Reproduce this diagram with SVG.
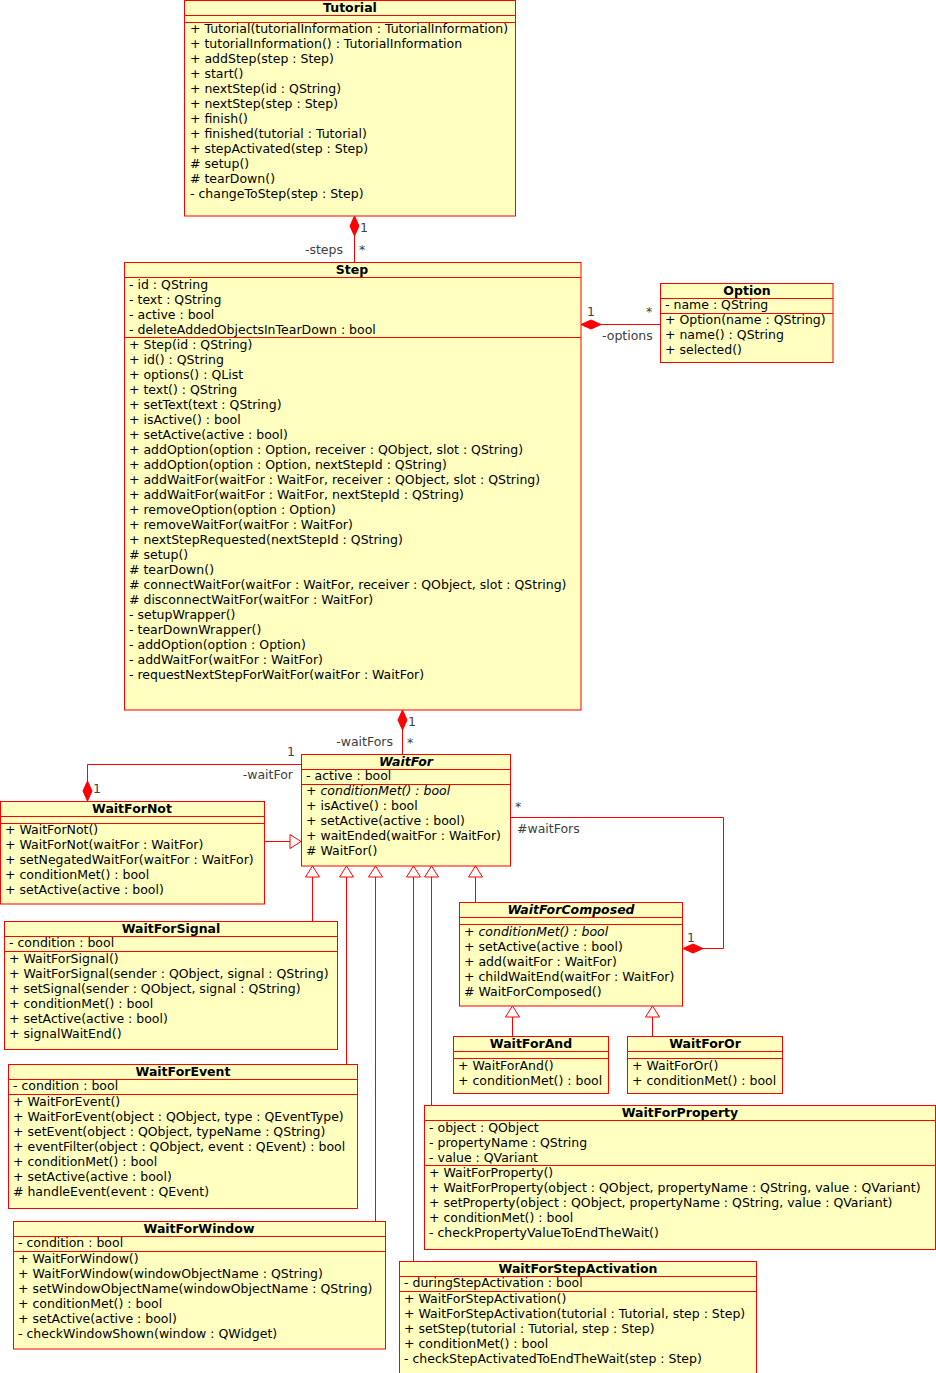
<svg xmlns="http://www.w3.org/2000/svg" width="936" height="1373" viewBox="0 0 936 1373">
<style>
.box{fill:#ffffc0;stroke:#ff0000;stroke-width:1}
.sep{stroke:#ff0000;stroke-width:1}
text{font-family:"DejaVu Sans","Liberation Sans",sans-serif;font-size:12.5px;fill:#000}
.h{font-weight:bold;text-anchor:middle}
.i{font-style:italic}
.lbl{fill:#404040}
.ln{fill:none;stroke:#ff0000;stroke-width:1}
.dia{fill:#ff0000;stroke:#ff0000;stroke-width:1}
.tri{fill:#ffffff;stroke:#ff0000;stroke-width:1}
</style>
<rect width="936" height="1373" fill="#ffffff"/>

<g id="connectors">
  <!-- Tutorial - Step -->
  <line class="ln" x1="354.5" y1="236" x2="354.5" y2="262"/>
  <polygon class="dia" points="354.5,216 359,226 354.5,236 350,226"/>
  <text class="lbl" x="360" y="232">1</text>
  <text class="lbl" x="359" y="254">*</text>
  <text class="lbl" x="343" y="254" text-anchor="end">-steps</text>
  <!-- Step - Option -->
  <line class="ln" x1="601" y1="324.5" x2="660" y2="324.5"/>
  <polygon class="dia" points="581,324.5 591,320 601,324.5 591,329"/>
  <text class="lbl" x="587" y="316">1</text>
  <text class="lbl" x="646" y="316">*</text>
  <text class="lbl" x="602" y="340">-options</text>
  <!-- Step - WaitFor -->
  <line class="ln" x1="402.5" y1="730" x2="402.5" y2="754"/>
  <polygon class="dia" points="402.5,710 407,720 402.5,730 398,720"/>
  <text class="lbl" x="408" y="726">1</text>
  <text class="lbl" x="407" y="747">*</text>
  <text class="lbl" x="393" y="746" text-anchor="end">-waitFors</text>
  <!-- WaitFor - WaitForNot -->
  <polyline class="ln" points="301,764.5 87.5,764.5 87.5,781"/>
  <polygon class="dia" points="87.5,781 92,791 87.5,801 83,791"/>
  <text class="lbl" x="287" y="756">1</text>
  <text class="lbl" x="293" y="779" text-anchor="end">-waitFor</text>
  <text class="lbl" x="93" y="793">1</text>
  <!-- WaitFor - WaitForComposed -->
  <polyline class="ln" points="510,817.5 723.5,817.5 723.5,948.5 703,948.5"/>
  <polygon class="dia" points="683,948.5 693,944 703,948.5 693,953"/>
  <text class="lbl" x="515" y="811">*</text>
  <text class="lbl" x="517" y="833">#waitFors</text>
  <text class="lbl" x="687" y="942">1</text>
  <!-- WaitForNot generalization -->
  <line class="ln" x1="264" y1="841.5" x2="290" y2="841.5"/>
  <polygon class="tri" points="301,841.5 290,834.5 290,848.5"/>
  <!-- generalizations below WaitFor -->
  <line class="ln" x1="312.5" y1="877" x2="312.5" y2="921.5"/>
  <polygon class="tri" points="312.5,866 305.5,877 319.5,877"/>
  <line class="ln" x1="346.5" y1="877" x2="346.5" y2="1064.5"/>
  <polygon class="tri" points="346.5,866 339.5,877 353.5,877"/>
  <line class="ln" x1="375.5" y1="877" x2="375.5" y2="1221.5"/>
  <polygon class="tri" points="375.5,866 368.5,877 382.5,877"/>
  <line class="ln" x1="413.5" y1="877" x2="413.5" y2="1261.5"/>
  <polygon class="tri" points="413.5,866 406.5,877 420.5,877"/>
  <line class="ln" x1="431.5" y1="877" x2="431.5" y2="1105.5"/>
  <polygon class="tri" points="431.5,866 424.5,877 438.5,877"/>
  <line class="ln" x1="475.5" y1="877" x2="475.5" y2="902.5"/>
  <polygon class="tri" points="475.5,866 468.5,877 482.5,877"/>
  <!-- below WaitForComposed -->
  <line class="ln" x1="512.5" y1="1017" x2="512.5" y2="1036.5"/>
  <polygon class="tri" points="512.5,1006 505.5,1017 519.5,1017"/>
  <line class="ln" x1="652.5" y1="1017" x2="652.5" y2="1036.5"/>
  <polygon class="tri" points="652.5,1006 645.5,1017 659.5,1017"/>
</g>

<g id="Tutorial">
  <rect class="box" x="184.5" y="0.5" width="331" height="215.5"/>
  <line class="sep" x1="184.5" y1="15.5" x2="515.5" y2="15.5"/>
  <line class="sep" x1="184.5" y1="22.5" x2="515.5" y2="22.5"/>
  <text class="h" x="350" y="12">Tutorial</text>
  <text x="190" y="33">+ Tutorial(tutorialInformation : TutorialInformation)</text>
  <text x="190" y="48">+ tutorialInformation() : TutorialInformation</text>
  <text x="190" y="63">+ addStep(step : Step)</text>
  <text x="190" y="78">+ start()</text>
  <text x="190" y="93">+ nextStep(id : QString)</text>
  <text x="190" y="108">+ nextStep(step : Step)</text>
  <text x="190" y="123">+ finish()</text>
  <text x="190" y="138">+ finished(tutorial : Tutorial)</text>
  <text x="190" y="153">+ stepActivated(step : Step)</text>
  <text x="190" y="168"># setup()</text>
  <text x="190" y="183"># tearDown()</text>
  <text x="190" y="198">- changeToStep(step : Step)</text>
</g>

<g id="Step">
  <rect class="box" x="124.5" y="262.5" width="456.5" height="447.5"/>
  <line class="sep" x1="124.5" y1="277.5" x2="581" y2="277.5"/>
  <line class="sep" x1="124.5" y1="337.5" x2="581" y2="337.5"/>
  <text class="h" x="352" y="274">Step</text>
  <text x="129" y="289">- id : QString</text>
  <text x="129" y="304">- text : QString</text>
  <text x="129" y="319">- active : bool</text>
  <text x="129" y="334">- deleteAddedObjectsInTearDown : bool</text>
  <text x="129" y="349">+ Step(id : QString)</text>
  <text x="129" y="364">+ id() : QString</text>
  <text x="129" y="379">+ options() : QList</text>
  <text x="129" y="394">+ text() : QString</text>
  <text x="129" y="409">+ setText(text : QString)</text>
  <text x="129" y="424">+ isActive() : bool</text>
  <text x="129" y="439">+ setActive(active : bool)</text>
  <text x="129" y="454">+ addOption(option : Option, receiver : QObject, slot : QString)</text>
  <text x="129" y="469">+ addOption(option : Option, nextStepId : QString)</text>
  <text x="129" y="484">+ addWaitFor(waitFor : WaitFor, receiver : QObject, slot : QString)</text>
  <text x="129" y="499">+ addWaitFor(waitFor : WaitFor, nextStepId : QString)</text>
  <text x="129" y="514">+ removeOption(option : Option)</text>
  <text x="129" y="529">+ removeWaitFor(waitFor : WaitFor)</text>
  <text x="129" y="544">+ nextStepRequested(nextStepId : QString)</text>
  <text x="129" y="559"># setup()</text>
  <text x="129" y="574"># tearDown()</text>
  <text x="129" y="589"># connectWaitFor(waitFor : WaitFor, receiver : QObject, slot : QString)</text>
  <text x="129" y="604"># disconnectWaitFor(waitFor : WaitFor)</text>
  <text x="129" y="619">- setupWrapper()</text>
  <text x="129" y="634">- tearDownWrapper()</text>
  <text x="129" y="649">- addOption(option : Option)</text>
  <text x="129" y="664">- addWaitFor(waitFor : WaitFor)</text>
  <text x="129" y="679">- requestNextStepForWaitFor(waitFor : WaitFor)</text>
</g>

<g id="Option">
  <rect class="box" x="660.5" y="283.5" width="172.5" height="79"/>
  <line class="sep" x1="660.5" y1="298.5" x2="833" y2="298.5"/>
  <line class="sep" x1="660.5" y1="313.5" x2="833" y2="313.5"/>
  <text class="h" x="747" y="295">Option</text>
  <text x="665" y="309">- name : QString</text>
  <text x="665" y="324">+ Option(name : QString)</text>
  <text x="665" y="339">+ name() : QString</text>
  <text x="665" y="354">+ selected()</text>
</g>

<g id="WaitFor">
  <rect class="box" x="301.5" y="754.5" width="209" height="111.5"/>
  <line class="sep" x1="301.5" y1="769.5" x2="510.5" y2="769.5"/>
  <line class="sep" x1="301.5" y1="784.5" x2="510.5" y2="784.5"/>
  <text class="h i" x="406" y="766">WaitFor</text>
  <text x="306" y="780">- active : bool</text>
  <text x="306" y="795">+ <tspan class="i">conditionMet() : bool</tspan></text>
  <text x="306" y="810">+ isActive() : bool</text>
  <text x="306" y="825">+ setActive(active : bool)</text>
  <text x="306" y="840">+ waitEnded(waitFor : WaitFor)</text>
  <text x="306" y="855"># WaitFor()</text>
</g>

<g id="WaitForNot">
  <rect class="box" x="0.5" y="801.5" width="264" height="102.5"/>
  <line class="sep" x1="0.5" y1="816.5" x2="264.5" y2="816.5"/>
  <line class="sep" x1="0.5" y1="823.5" x2="264.5" y2="823.5"/>
  <text class="h" x="132" y="813">WaitForNot</text>
  <text x="5" y="834">+ WaitForNot()</text>
  <text x="5" y="849">+ WaitForNot(waitFor : WaitFor)</text>
  <text x="5" y="864">+ setNegatedWaitFor(waitFor : WaitFor)</text>
  <text x="5" y="879">+ conditionMet() : bool</text>
  <text x="5" y="894">+ setActive(active : bool)</text>
</g>

<g id="WaitForSignal">
  <rect class="box" x="4.5" y="921.5" width="333" height="128"/>
  <line class="sep" x1="4.5" y1="936.5" x2="337.5" y2="936.5"/>
  <line class="sep" x1="4.5" y1="951.5" x2="337.5" y2="951.5"/>
  <text class="h" x="171" y="933">WaitForSignal</text>
  <text x="9" y="947">- condition : bool</text>
  <text x="9" y="963">+ WaitForSignal()</text>
  <text x="9" y="978">+ WaitForSignal(sender : QObject, signal : QString)</text>
  <text x="9" y="993">+ setSignal(sender : QObject, signal : QString)</text>
  <text x="9" y="1008">+ conditionMet() : bool</text>
  <text x="9" y="1023">+ setActive(active : bool)</text>
  <text x="9" y="1038">+ signalWaitEnd()</text>
</g>

<g id="WaitForEvent">
  <rect class="box" x="8.5" y="1064.5" width="349" height="144"/>
  <line class="sep" x1="8.5" y1="1079.5" x2="357.5" y2="1079.5"/>
  <line class="sep" x1="8.5" y1="1094.5" x2="357.5" y2="1094.5"/>
  <text class="h" x="183" y="1076">WaitForEvent</text>
  <text x="13" y="1090">- condition : bool</text>
  <text x="13" y="1106">+ WaitForEvent()</text>
  <text x="13" y="1121">+ WaitForEvent(object : QObject, type : QEventType)</text>
  <text x="13" y="1136">+ setEvent(object : QObject, typeName : QString)</text>
  <text x="13" y="1151">+ eventFilter(object : QObject, event : QEvent) : bool</text>
  <text x="13" y="1166">+ conditionMet() : bool</text>
  <text x="13" y="1181">+ setActive(active : bool)</text>
  <text x="13" y="1196"># handleEvent(event : QEvent)</text>
</g>

<g id="WaitForWindow">
  <rect class="box" x="13.5" y="1221.5" width="372" height="127.5"/>
  <line class="sep" x1="13.5" y1="1236.5" x2="385.5" y2="1236.5"/>
  <line class="sep" x1="13.5" y1="1251.5" x2="385.5" y2="1251.5"/>
  <text class="h" x="199" y="1233">WaitForWindow</text>
  <text x="18" y="1247">- condition : bool</text>
  <text x="18" y="1263">+ WaitForWindow()</text>
  <text x="18" y="1278">+ WaitForWindow(windowObjectName : QString)</text>
  <text x="18" y="1293">+ setWindowObjectName(windowObjectName : QString)</text>
  <text x="18" y="1308">+ conditionMet() : bool</text>
  <text x="18" y="1323">+ setActive(active : bool)</text>
  <text x="18" y="1338">- checkWindowShown(window : QWidget)</text>
</g>

<g id="WaitForComposed">
  <rect class="box" x="459.5" y="902.5" width="223" height="103.5"/>
  <line class="sep" x1="459.5" y1="917.5" x2="682.5" y2="917.5"/>
  <line class="sep" x1="459.5" y1="924.5" x2="682.5" y2="924.5"/>
  <text class="h i" x="571" y="914">WaitForComposed</text>
  <text x="464" y="936">+ <tspan class="i">conditionMet() : bool</tspan></text>
  <text x="464" y="951">+ setActive(active : bool)</text>
  <text x="464" y="966">+ add(waitFor : WaitFor)</text>
  <text x="464" y="981">+ childWaitEnd(waitFor : WaitFor)</text>
  <text x="464" y="996"># WaitForComposed()</text>
</g>

<g id="WaitForAnd">
  <rect class="box" x="453.5" y="1036.5" width="155" height="57"/>
  <line class="sep" x1="453.5" y1="1051.5" x2="608.5" y2="1051.5"/>
  <line class="sep" x1="453.5" y1="1058.5" x2="608.5" y2="1058.5"/>
  <text class="h" x="531" y="1048">WaitForAnd</text>
  <text x="458" y="1070">+ WaitForAnd()</text>
  <text x="458" y="1085">+ conditionMet() : bool</text>
</g>

<g id="WaitForOr">
  <rect class="box" x="627.5" y="1036.5" width="155" height="57"/>
  <line class="sep" x1="627.5" y1="1051.5" x2="782.5" y2="1051.5"/>
  <line class="sep" x1="627.5" y1="1058.5" x2="782.5" y2="1058.5"/>
  <text class="h" x="705" y="1048">WaitForOr</text>
  <text x="632" y="1070">+ WaitForOr()</text>
  <text x="632" y="1085">+ conditionMet() : bool</text>
</g>

<g id="WaitForProperty">
  <rect class="box" x="424.5" y="1105.5" width="511" height="144"/>
  <line class="sep" x1="424.5" y1="1120.5" x2="935.5" y2="1120.5"/>
  <line class="sep" x1="424.5" y1="1165.5" x2="935.5" y2="1165.5"/>
  <text class="h" x="680" y="1117">WaitForProperty</text>
  <text x="429" y="1132">- object : QObject</text>
  <text x="429" y="1147">- propertyName : QString</text>
  <text x="429" y="1162">- value : QVariant</text>
  <text x="429" y="1177">+ WaitForProperty()</text>
  <text x="429" y="1192">+ WaitForProperty(object : QObject, propertyName : QString, value : QVariant)</text>
  <text x="429" y="1207">+ setProperty(object : QObject, propertyName : QString, value : QVariant)</text>
  <text x="429" y="1222">+ conditionMet() : bool</text>
  <text x="429" y="1237">- checkPropertyValueToEndTheWait()</text>
</g>

<g id="WaitForStepActivation">
  <rect class="box" x="399.5" y="1261.5" width="357" height="130"/>
  <line class="sep" x1="399.5" y1="1276.5" x2="756.5" y2="1276.5"/>
  <line class="sep" x1="399.5" y1="1291.5" x2="756.5" y2="1291.5"/>
  <text class="h" x="578" y="1273">WaitForStepActivation</text>
  <text x="404" y="1287">- duringStepActivation : bool</text>
  <text x="404" y="1303">+ WaitForStepActivation()</text>
  <text x="404" y="1318">+ WaitForStepActivation(tutorial : Tutorial, step : Step)</text>
  <text x="404" y="1333">+ setStep(tutorial : Tutorial, step : Step)</text>
  <text x="404" y="1348">+ conditionMet() : bool</text>
  <text x="404" y="1363">- checkStepActivatedToEndTheWait(step : Step)</text>
</g>
</svg>
